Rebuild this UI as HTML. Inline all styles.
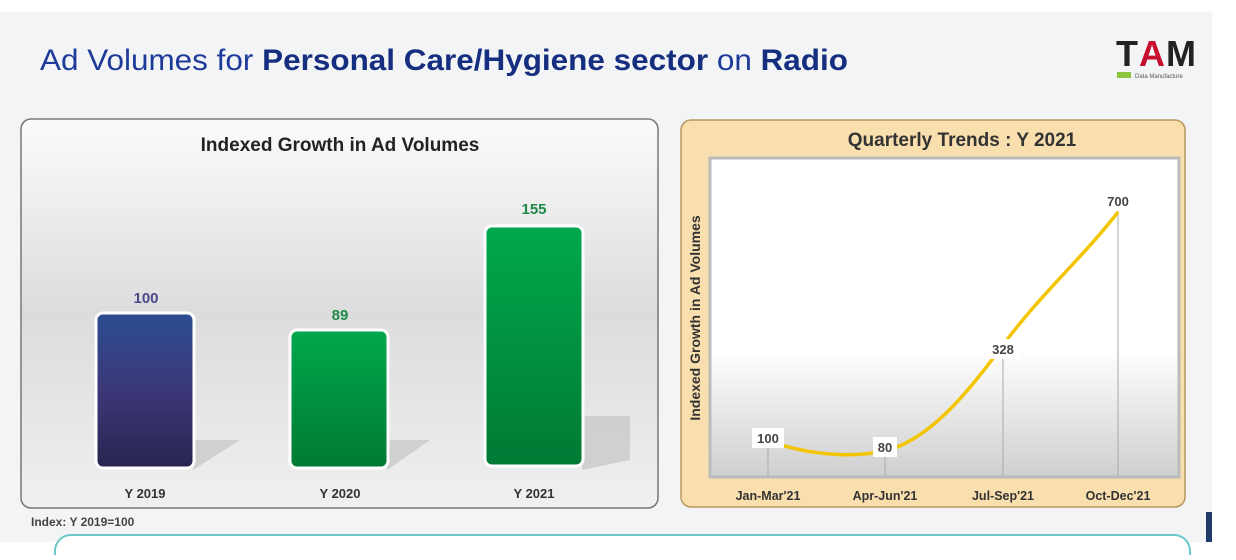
<!DOCTYPE html>
<html><head><meta charset="utf-8"><style>
body{margin:0;width:1236px;height:555px;overflow:hidden;background:#fff;font-family:"Liberation Sans",sans-serif}
</style></head><body>
<svg width="1236" height="555" xmlns="http://www.w3.org/2000/svg" font-family="Liberation Sans, sans-serif">
<defs>
<linearGradient id="lg" x1="0" y1="0" x2="0" y2="1"><stop offset="0" stop-color="#fbfbfb"/><stop offset="0.5" stop-color="#dcdcdc"/><stop offset="1" stop-color="#f0f0f0"/></linearGradient>
<linearGradient id="rg" x1="0" y1="0" x2="0" y2="1"><stop offset="0" stop-color="#ffffff"/><stop offset="0.6" stop-color="#ffffff"/><stop offset="1" stop-color="#cfcfcf"/></linearGradient>
<linearGradient id="blue" x1="0" y1="0" x2="0" y2="1"><stop offset="0" stop-color="#2c4c92"/><stop offset="0.5" stop-color="#3c3878"/><stop offset="1" stop-color="#272650"/></linearGradient>
<linearGradient id="green" x1="0" y1="0" x2="0" y2="1"><stop offset="0" stop-color="#00a84c"/><stop offset="1" stop-color="#007a34"/></linearGradient>
</defs>
<rect x="0" y="12" width="1212" height="530" fill="#f3f4f6"/>
<text x="40" y="70" font-size="30" fill="#1f3b9a" textLength="808" lengthAdjust="spacingAndGlyphs">Ad Volumes for <tspan font-weight="bold" fill="#152e80">Personal Care/Hygiene sector</tspan> on <tspan font-weight="bold" fill="#152e80">Radio</tspan></text>
<text x="1116" y="66" font-size="36" font-weight="bold" fill="#222" letter-spacing="-2">T</text>
<text x="1139" y="66" font-size="36" font-weight="bold" fill="#c8102e">A</text>
<text x="1166" y="66" font-size="36" font-weight="bold" fill="#222">M</text>
<rect x="1117" y="72" width="14" height="6" fill="#8cc63f"/>
<text x="1135" y="78" font-size="6" fill="#555">Data Manufacture</text>
<!-- left panel -->
<rect x="21" y="119" width="637" height="389" rx="10" fill="url(#lg)" stroke="#777" stroke-width="1.5"/>
<text x="340" y="151" font-size="19" font-weight="bold" text-anchor="middle" fill="#222">Indexed Growth in Ad Volumes</text>
<polygon points="193,440 240,440 193,470" fill="#c4c4c4" opacity="0.7"/>
<polygon points="387,440 430,440 387,470" fill="#c4c4c4" opacity="0.7"/>
<polygon points="582,416 630,416 630,460 582,470" fill="#c4c4c4" opacity="0.7"/>
<rect x="96" y="313" width="98" height="155" rx="7" fill="url(#blue)" stroke="#fff" stroke-width="3"/>
<rect x="290" y="330" width="98" height="138" rx="7" fill="url(#green)" stroke="#fff" stroke-width="3"/>
<rect x="485" y="226" width="98" height="240" rx="7" fill="url(#green)" stroke="#fff" stroke-width="3"/>
<text x="146" y="303" font-size="15" font-weight="bold" text-anchor="middle" fill="#4a4a8c">100</text>
<text x="340" y="320" font-size="15" font-weight="bold" text-anchor="middle" fill="#1e8a48">89</text>
<text x="534" y="214" font-size="15" font-weight="bold" text-anchor="middle" fill="#1e8a48">155</text>
<text x="145" y="498" font-size="13" font-weight="bold" text-anchor="middle" fill="#333">Y 2019</text>
<text x="340" y="498" font-size="13" font-weight="bold" text-anchor="middle" fill="#333">Y 2020</text>
<text x="534" y="498" font-size="13" font-weight="bold" text-anchor="middle" fill="#333">Y 2021</text>
<text x="31" y="526" font-size="12" font-weight="bold" fill="#444">Index: Y 2019=100</text>
<rect x="55" y="535" width="1135" height="40" rx="16" fill="#fff" stroke="#6fc8c8" stroke-width="2"/>
<rect x="1206" y="512" width="6" height="30" fill="#1f3b6a"/>
<!-- right panel -->
<rect x="681" y="120" width="504" height="387" rx="10" fill="#f9dfae" stroke="#b89860" stroke-width="1.5"/>
<text x="962" y="146" font-size="19" font-weight="bold" text-anchor="middle" fill="#333">Quarterly Trends : Y 2021</text>
<rect x="710" y="158" width="469" height="319" fill="url(#rg)" stroke="#bbb" stroke-width="3"/>
<g stroke="#aaa" stroke-width="1">
<line x1="768" y1="443" x2="768" y2="476"/><line x1="885" y1="452" x2="885" y2="476"/>
<line x1="1003" y1="349" x2="1003" y2="476"/><line x1="1118" y1="210" x2="1118" y2="476"/>
</g>
<path d="M768,441 C810,455 850,458 885,451 C930,440 970,390 1003,345 C1040,295 1085,255 1118,212" fill="none" stroke="#f2c500" stroke-width="3.5"/>
<g font-size="13" font-weight="bold" fill="#444" text-anchor="middle">
<rect x="752" y="428" width="32" height="20" fill="#fff"/><text x="768" y="443">100</text>
<rect x="873" y="437" width="24" height="20" fill="#fff"/><text x="885" y="452">80</text>
<rect x="987" y="339" width="32" height="20" fill="#fff"/><text x="1003" y="354">328</text>
<rect x="1102" y="191" width="32" height="20" fill="#fff"/><text x="1118" y="206">700</text>
</g>
<text transform="translate(700,318) rotate(-90)" font-size="14" font-weight="bold" text-anchor="middle" fill="#333">Indexed Growth in Ad Volumes</text>
<g font-size="12.5" font-weight="bold" fill="#333" text-anchor="middle">
<text x="768" y="500">Jan-Mar'21</text><text x="885" y="500">Apr-Jun'21</text>
<text x="1003" y="500">Jul-Sep'21</text><text x="1118" y="500">Oct-Dec'21</text>
</g>
</svg>
</body></html>
